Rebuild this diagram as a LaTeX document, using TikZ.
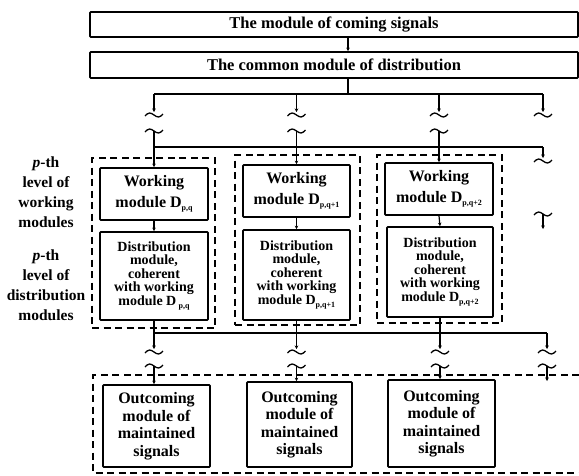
\documentclass[tikz,border=0pt]{standalone}
\usepackage{fontspec}
\setmainfont{Liberation Serif}
\usetikzlibrary{arrows.meta}
\newcommand{\sbs}[1]{\raisebox{-3.5pt}{\fontsize{8}{8}\selectfont #1}}
\begin{document}
\begin{tikzpicture}[x=1pt,y=-1pt,
  box/.style={draw, line width=1.7pt, rounded corners=0.8pt, inner sep=0pt, align=center},
  topbox/.style={box, minimum width=488, font=\fontsize{16.5}{20}\selectfont\bfseries},
  wbox/.style={box, font=\fontsize{16}{21}\selectfont\bfseries},
  dbox/.style={box, font=\fontsize{14}{13.5}\selectfont\bfseries},
  obox/.style={box, font=\fontsize{16}{17.5}\selectfont\bfseries},
  grp/.style={draw, line width=1.1pt, dash pattern=on 7pt off 4.5pt},
  conn/.style={line width=1.2pt},
  tip/.style={conn, -{Stealth[length=3.5pt,width=3.5pt]}},
  brk/.pic={\draw[line width=1.3pt] (-9,1) sin (-4.5,-2) cos (0,0) sin (4.5,2) cos (9,-1);},
  lbl/.style={align=center, font=\fontsize{15.5}{20}\selectfont\bfseries}
]
\useasboundingbox (0,0) rectangle (579,475);

% top modules
\node[topbox, minimum height=25] (A) at (334,24.5) {The module of coming signals};
\node[topbox, minimum height=26] (B) at (334,65) {The common module of distribution};

% group frames
\node[grp, minimum width=123, minimum height=170] (G1) at (153.5,243) {};
\node[grp, minimum width=125, minimum height=170] (G2) at (297.5,240) {};
\node[grp, minimum width=125, minimum height=168] (G3) at (439.5,239) {};

% working modules
\node[wbox, minimum width=108, minimum height=52] (W1) at (154,194) {Working\\module D\sbs{p,q}};
\node[wbox, minimum width=107, minimum height=52] (W2) at (296.5,191) {Working\\module D\sbs{p,q+1}};
\node[wbox, minimum width=108, minimum height=52] (W3) at (439,189) {Working\\module D\sbs{p,q+2}};

% distribution modules
\node[dbox, minimum width=108, minimum height=88] (D1) at (154,276) {Distribution\\module,\\coherent\\with working\\module D\,\sbs{p,q}};
\node[dbox, minimum width=107, minimum height=90] (D2) at (296.5,275) {Distribution\\module,\\coherent\\with working\\module D\sbs{p,q+1}};
\node[dbox, minimum width=106, minimum height=90] (D3) at (440,272) {Distribution\\module,\\coherent\\with working\\module D\sbs{p,q+2}};

% outcoming modules
\node[obox, minimum width=107, minimum height=82] (O1) at (156.5,426) {Outcoming\\module of\\maintained\\signals};
\node[obox, minimum width=105, minimum height=85] (O2) at (299.5,424.5) {Outcoming\\module of\\maintained\\signals};
\node[obox, minimum width=107, minimum height=87] (O3) at (441.5,423.5) {Outcoming\\module of\\maintained\\signals};

% left labels
\node[lbl] (L1) at (46,192.5) {\textit{p}-th\\level of\\working\\modules};
\node[lbl] (L2) at (46,285) {\textit{p}-th\\level of\\distribution\\modules};

% reference coordinates
\coordinate (jx) at (348,0);
\coordinate (bus1) at (0,94);
\coordinate (bus2) at (0,147);
\coordinate (bus3) at (0,333);
\coordinate (u4) at (543,0);
\coordinate (l4) at (547,0);
\coordinate (arrA) at (0,112);
\coordinate (tilA) at (0,115);
\coordinate (tilB) at (0,131);
\coordinate (arrC) at (0,158);
\coordinate (tilC) at (0,161);
\coordinate (tilD) at (0,214);
\coordinate (endD) at (0,229);
\coordinate (arrE) at (0,349);
\coordinate (tilE) at (0,352);
\coordinate (tilF) at (0,366);
\coordinate (endF) at (0,381);

% upper connectors
\draw[tip] (A.south -| jx) -- (B.north -| jx);
\draw[conn] (B.south -| jx) -- (jx |- bus1);
\draw[conn] (W1.north |- bus1) -- (u4 |- bus1);
\foreach \c in {W1.north,W2.north,W3.north,u4} {
  \draw[tip] (\c |- bus1) -- (\c |- arrA);
  \pic at (\c |- tilA) {brk};
}
\foreach \c in {W1.north,W2.north,W3.north} {
  \pic at (\c |- tilB) {brk};
  \draw[conn] (\c |- tilB) -- (\c |- bus2);
  \draw[tip] (\c |- bus2) -- (\c);
}
\draw[conn] (W1.north |- bus2) -- (u4 |- bus2);
\draw[tip] (u4 |- bus2) -- (u4 |- arrC);
\pic at (u4 |- tilC) {brk};
\pic at (u4 |- tilD) {brk};
\draw[tip] (u4 |- tilD) -- (u4 |- endD);

% working -> distribution
\draw[tip] (W1.south) -- (D1.north);
\draw[tip] (W2.south) -- (D2.north);
\draw[tip] (W3.south) -- (D3.north);

% lower connectors
\draw[conn] (D1.south |- bus3) -- (l4 |- bus3);
\foreach \d/\o in {D1/O1,D2/O2,D3/O3} {
  \draw[conn] (\d.south) -- (\d.south |- bus3);
  \draw[tip] (\d.south |- bus3) -- (\d.south |- arrE);
  \pic at (\d.south |- tilE) {brk};
  \pic at (\d.south |- tilF) {brk};
  \draw[tip] (\d.south |- tilF) -- (\o.north -| \d.south);
}
\draw[tip] (l4 |- bus3) -- (l4 |- arrE);
\pic at (l4 |- tilE) {brk};
\pic at (l4 |- tilF) {brk};
\draw[tip] (l4 |- tilF) -- (l4 |- endF);

% lower frame
\draw[grp] (579,375) -- (93,375) -- (93,473) -- (579,473);
\end{tikzpicture}
\end{document}
